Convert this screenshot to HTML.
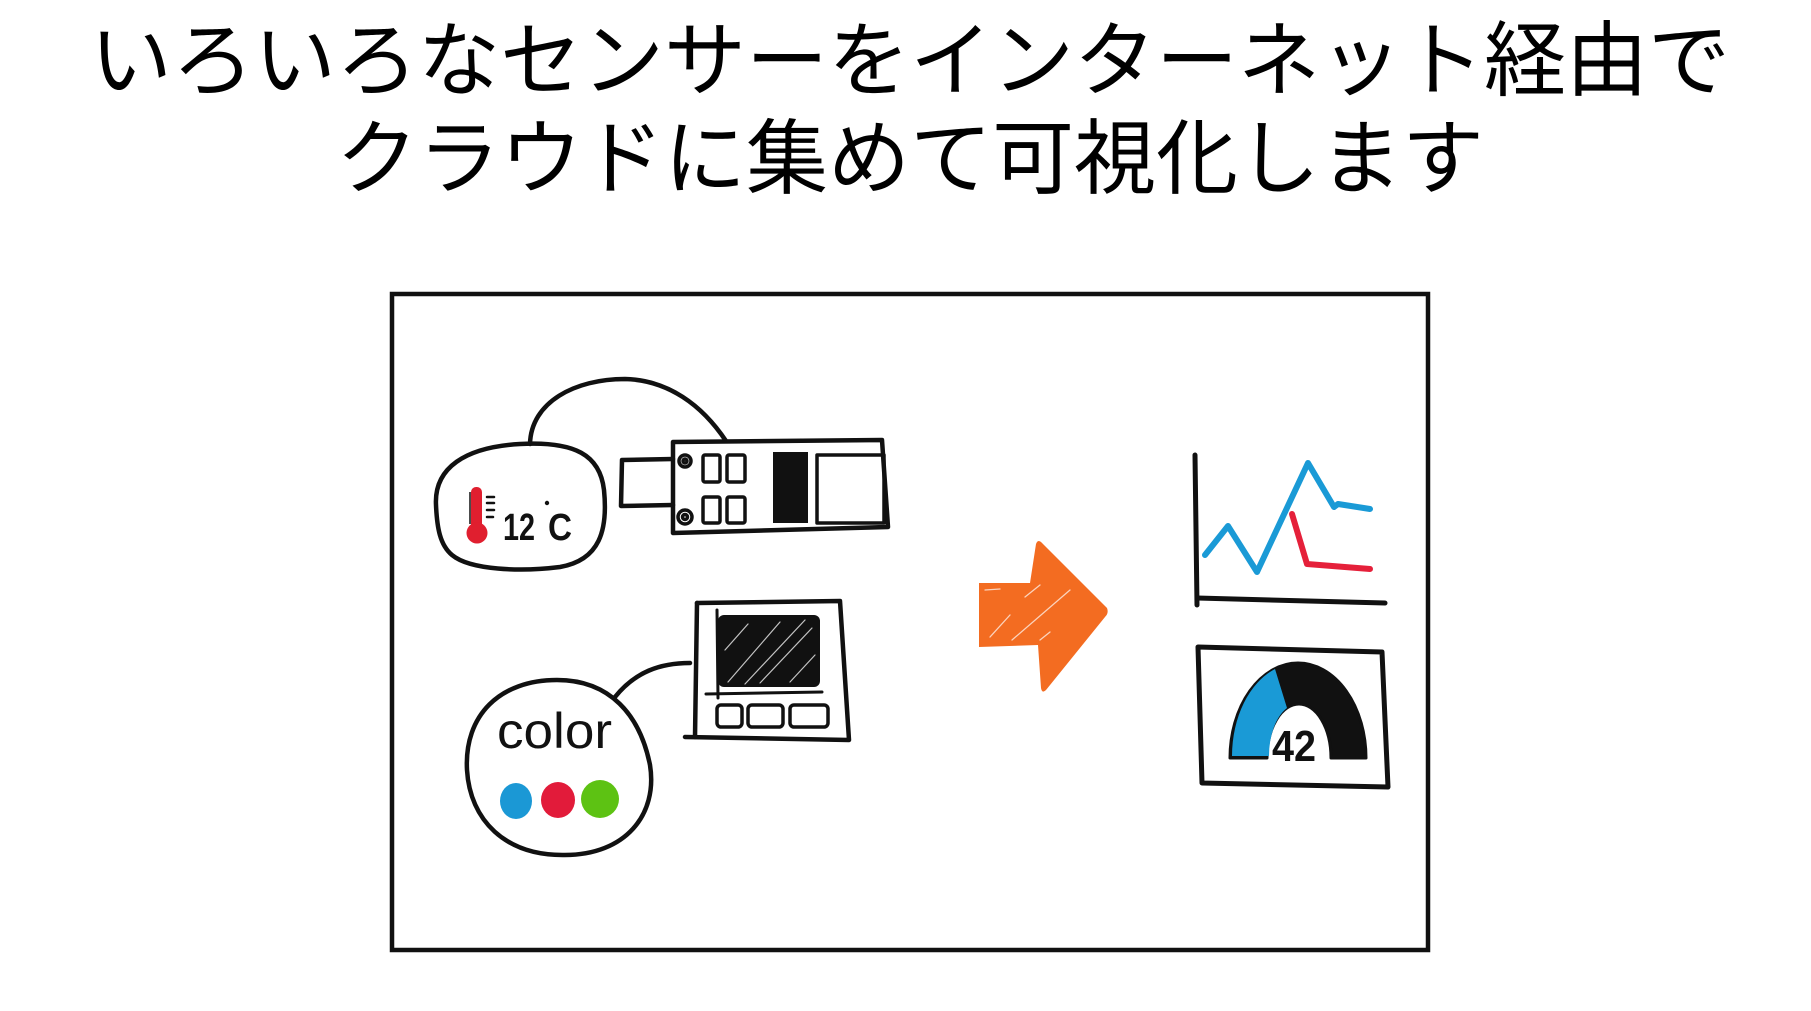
<!DOCTYPE html>
<html>
<head>
<meta charset="utf-8">
<style>
html,body{margin:0;padding:0;background:#fff;}
body{width:1811px;height:1011px;overflow:hidden;}
svg{display:block;}
</style>
</head>
<body>
<svg width="1811" height="1011" viewBox="0 0 1811 1011" xmlns="http://www.w3.org/2000/svg">
  <rect x="0" y="0" width="1811" height="1011" fill="#fff"/>

  <!-- Title -->
  <text x="910" y="89" text-anchor="middle" font-size="82" fill="#000" font-family="'Liberation Sans','Noto Sans CJK JP',sans-serif">いろいろなセンサーをインターネット経由で</text>
  <text x="910" y="187" text-anchor="middle" font-size="82" fill="#000" font-family="'Liberation Sans','Noto Sans CJK JP',sans-serif">クラウドに集めて可視化します</text>

  <!-- Frame box -->
  <rect x="392" y="294" width="1036" height="656" fill="none" stroke="#111" stroke-width="4.5"/>

  <g fill="none" stroke="#111" stroke-width="4.5" stroke-linecap="round" stroke-linejoin="round">
    <!-- wire 1 -->
    <path d="M530,444 C531,402 575,379 625,379 C668,380 702,405 726,441"/>
    <!-- temp bubble -->
    <path d="M436,505 C434,468 465,447 520,444 C575,441 600,455 604,490 C608,530 600,560 560,567 C520,572 470,570 452,555 C440,545 437,528 436,505 Z"/>

    <!-- board 1 -->
    <path d="M673,442 L882,440 L888,527 L673,533 Z"/>
    <path d="M673,459 L622,460 L621,506 L673,505"/>
    <g stroke-width="3.5">
      <circle cx="685" cy="461" r="6"/>
      <circle cx="685" cy="461" r="2"/>
      <circle cx="685" cy="517" r="7"/>
      <circle cx="685" cy="517" r="2.5"/>
      <rect x="703" y="455" width="17" height="27" rx="2"/>
      <rect x="727" y="455" width="18" height="27" rx="2"/>
      <rect x="703" y="497" width="17" height="26" rx="2"/>
      <rect x="727" y="497" width="18" height="26" rx="2"/>
      <rect x="817" y="455" width="67" height="68"/>
    </g>
  </g>
  <rect x="773" y="452" width="35" height="71" fill="#111"/>

  <!-- thermometer -->
  <rect x="471" y="487" width="11" height="44" rx="5" fill="#e01f2f"/>
  <circle cx="477" cy="533" r="10.5" fill="#e01f2f"/>
  <path d="M470,492 L470,524" stroke="#111" stroke-width="1.5"/>
  <g stroke="#111" stroke-width="2.5" stroke-linecap="round">
    <line x1="487" y1="497" x2="494" y2="497"/>
    <line x1="487" y1="503" x2="494" y2="503"/>
    <line x1="487" y1="510" x2="494" y2="510"/>
    <line x1="487" y1="517" x2="493" y2="517"/>
  </g>
  <text x="503" y="540" font-size="38" font-weight="bold" fill="#111" font-family="'Liberation Sans',sans-serif" textLength="32" lengthAdjust="spacingAndGlyphs">12</text>
  <circle cx="547" cy="503" r="2.2" fill="#111"/>
  <text x="548" y="540" font-size="38" font-weight="bold" fill="#111" font-family="'Liberation Sans',sans-serif" textLength="24" lengthAdjust="spacingAndGlyphs">C</text>
  <text x="541" y="515" font-size="1" fill="#fff" font-family="'Liberation Sans',sans-serif">°</text>

  <!-- color sensor -->
  <g fill="none" stroke="#111" stroke-width="4.5" stroke-linecap="round" stroke-linejoin="round">
    <path d="M615,697 C635,672 660,663 690,663"/>
    <path d="M557,680 C610,680 640,715 650,765 C658,815 625,855 565,855 C505,856 470,820 467,770 C464,715 500,680 557,680 Z"/>
    <!-- board 2 -->
    <path d="M697,603 L840,601 L849,740 L685,737"/>
    <path d="M697,603 L695,737"/>
    <path d="M717,610 L718,698" stroke-width="3"/>
    <path d="M706,694 L822,692" stroke-width="3"/>
    <g stroke-width="3.5">
      <rect x="717" y="705" width="25" height="22" rx="4"/>
      <rect x="748" y="705" width="35" height="22" rx="4"/>
      <rect x="790" y="705" width="38" height="22" rx="4"/>
    </g>
  </g>
  <rect x="718" y="615" width="102" height="72" rx="6" fill="#111"/>
  <g stroke="#fff" stroke-width="1.2" opacity="0.75" stroke-linecap="round">
    <line x1="728" y1="682" x2="780" y2="622"/>
    <line x1="745" y1="684" x2="805" y2="620"/>
    <line x1="760" y1="683" x2="812" y2="628"/>
    <line x1="790" y1="682" x2="815" y2="655"/>
    <line x1="725" y1="650" x2="748" y2="624"/>
  </g>
  <text x="497" y="748" font-size="50" fill="#111" font-family="'Liberation Sans',sans-serif" textLength="115" lengthAdjust="spacingAndGlyphs">color</text>
  <ellipse cx="516" cy="801" rx="16" ry="18" fill="#1b98d5"/>
  <ellipse cx="558" cy="800" rx="17" ry="18" fill="#e21b3a"/>
  <ellipse cx="600" cy="799" rx="19" ry="19" fill="#5dc213"/>

  <!-- orange arrow -->
  <path d="M979,583 L1030,583 L1036,544 Q1038,538 1043,544 L1107,608 Q1109,613 1105,617 L1046,690 Q1042,694 1041,688 L1038,645 L979,647 Z" fill="#f36c21"/>
  <g stroke="#fff" stroke-width="1.3" opacity="0.7" stroke-linecap="round">
    <line x1="1012" y1="640" x2="1070" y2="590"/>
    <line x1="990" y1="637" x2="1010" y2="615"/>
    <line x1="1025" y1="597" x2="1040" y2="585"/>
    <line x1="1040" y1="640" x2="1050" y2="632"/>
    <line x1="985" y1="590" x2="1000" y2="589"/>
  </g>

  <!-- line chart -->
  <g fill="none" stroke-linecap="round" stroke-linejoin="round">
    <path d="M1195,455 L1197,605" stroke="#111" stroke-width="5"/>
    <path d="M1197,598 L1385,603" stroke="#111" stroke-width="5"/>
    <path d="M1205,555 L1228,526 L1257,572 L1308,463 L1334,507 L1338,504 L1370,509" stroke="#1a9ad6" stroke-width="6"/>
    <path d="M1292,514 L1307,564 L1370,569" stroke="#e5203a" stroke-width="6"/>
  </g>

  <!-- gauge -->
  <path d="M1198,647 L1382,652 L1388,787 L1202,783 Z" fill="none" stroke="#111" stroke-width="5" stroke-linejoin="round"/>
  <path d="M1230,758 A68,95 0 0 1 1366,758 L1331,758 A32,54 0 0 0 1267,758 Z" fill="#111" stroke="#111" stroke-width="3" stroke-linejoin="round"/>
  <path d="M1232,756 A66,93 0 0 1 1275,669 L1287,708 A30,52 0 0 0 1269,756 Z" fill="#1a9ad6"/>
  <text x="1272" y="761" font-size="44" font-weight="bold" fill="#111" font-family="'Liberation Sans',sans-serif" textLength="44" lengthAdjust="spacingAndGlyphs">42</text>
</svg>
</body>
</html>
